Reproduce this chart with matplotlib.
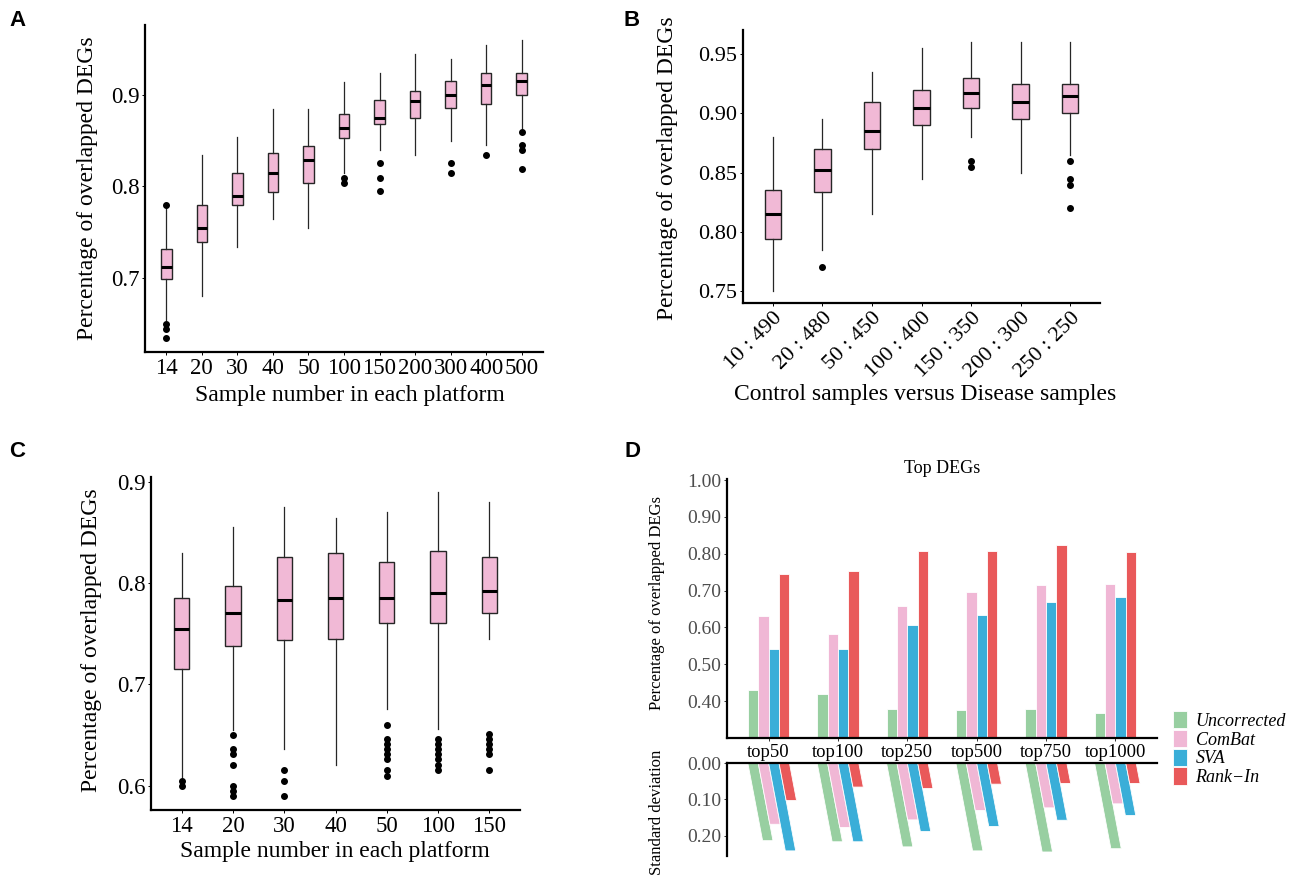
import matplotlib.pyplot as plt
from matplotlib.transforms import Affine2D

plt.rcParams["font.family"] = "Liberation Serif"

W, H = 1290, 877
PINK = "#F1B9D6"

# ---------------- dados: painel A ----------------
a_cats = ["14", "20", "30", "40", "50", "100", "150", "200", "300", "400", "500"]
a_whislo = [0.654, 0.680, 0.734, 0.764, 0.754, 0.814, 0.839, 0.834, 0.849, 0.845, 0.864]
a_q1 = [0.699, 0.739, 0.779, 0.794, 0.804, 0.853, 0.868, 0.874, 0.885, 0.890, 0.900]
a_med = [0.712, 0.754, 0.789, 0.814, 0.829, 0.864, 0.875, 0.893, 0.900, 0.910, 0.915]
a_q3 = [0.731, 0.779, 0.814, 0.836, 0.844, 0.879, 0.894, 0.904, 0.915, 0.924, 0.924]
a_whishi = [0.776, 0.834, 0.854, 0.884, 0.884, 0.914, 0.924, 0.944, 0.939, 0.954, 0.960]
a_fliers = [[0.780, 0.650, 0.644, 0.634], [], [], [], [], [0.809, 0.804],
            [0.825, 0.809, 0.795], [], [0.825, 0.814], [0.834],
            [0.859, 0.845, 0.840, 0.819]]

# ---------------- dados: painel B ----------------
b_cats = ["10 : 490", "20 : 480", "50 : 450", "100 : 400", "150 : 350", "200 : 300", "250 : 250"]
b_whislo = [0.750, 0.785, 0.815, 0.845, 0.880, 0.850, 0.865]
b_q1 = [0.794, 0.834, 0.870, 0.890, 0.905, 0.895, 0.900]
b_med = [0.815, 0.852, 0.885, 0.905, 0.917, 0.910, 0.915]
b_q3 = [0.835, 0.870, 0.910, 0.920, 0.930, 0.925, 0.925]
b_whishi = [0.880, 0.895, 0.935, 0.955, 0.960, 0.960, 0.960]
b_fliers = [[], [0.770], [], [], [0.860, 0.855], [], [0.860, 0.845, 0.840, 0.820]]

# ---------------- dados: painel C ----------------
c_cats = ["14", "20", "30", "40", "50", "100", "150"]
c_whislo = [0.609, 0.655, 0.636, 0.620, 0.676, 0.656, 0.745]
c_q1 = [0.715, 0.738, 0.744, 0.745, 0.761, 0.761, 0.770]
c_med = [0.755, 0.770, 0.783, 0.785, 0.785, 0.790, 0.792]
c_q3 = [0.785, 0.797, 0.826, 0.830, 0.821, 0.832, 0.826]
c_whishi = [0.830, 0.855, 0.875, 0.864, 0.870, 0.890, 0.880]
c_fliers = [[0.605, 0.600],
            [0.650, 0.636, 0.631, 0.620, 0.600, 0.595, 0.590],
            [0.615, 0.605, 0.590],
            [],
            [0.660, 0.646, 0.641, 0.636, 0.631, 0.626, 0.615, 0.610],
            [0.646, 0.641, 0.636, 0.631, 0.626, 0.620, 0.615],
            [0.651, 0.646, 0.641, 0.636, 0.631, 0.615]]

# ---------------- dados: painel D ----------------
d_cats = ["top50", "top100", "top250", "top500", "top750", "top1000"]
d_methods = ["Uncorrected", "ComBat", "SVA", "Rank\u2212In"]
d_colors = ["#98CFA1", "#F0B7D5", "#3AAED8", "#E9595A"]
d_uncorrected = [0.430, 0.420, 0.380, 0.377, 0.380, 0.368]
d_combat = [0.632, 0.581, 0.659, 0.697, 0.714, 0.717]
d_sva = [0.541, 0.541, 0.606, 0.634, 0.670, 0.684]
d_rankin = [0.744, 0.754, 0.808, 0.808, 0.825, 0.805]
sd_uncorrected = [0.213, 0.216, 0.230, 0.241, 0.244, 0.235]
sd_combat = [0.168, 0.177, 0.156, 0.130, 0.123, 0.112]
sd_sva = [0.241, 0.216, 0.188, 0.174, 0.157, 0.144]
sd_rankin = [0.103, 0.066, 0.070, 0.058, 0.056, 0.056]

fig = plt.figure(figsize=(W / 100, H / 100), dpi=100)


def px_axes(l, t, r, b):
    return fig.add_axes([l / W, 1 - b / H, (r - l) / W, (b - t) / H])


def px_text(x, y, s, **kw):
    fig.text(x / W, 1 - y / H, s, **kw)


def estilo(ax):
    for s in ["top", "right"]:
        ax.spines[s].set_visible(False)
    for s in ["left", "bottom"]:
        ax.spines[s].set_linewidth(1.6)
        ax.spines[s].set_color("black")
    ax.tick_params(length=2.5, width=0.7, color="#333333", pad=1.5)


def box_panel(ax, cats, whislo, q1, med, q3, whishi, fliers, width):
    stats = []
    for i in range(len(cats)):
        stats.append(dict(whislo=whislo[i], q1=q1[i], med=med[i], q3=q3[i],
                          whishi=whishi[i], fliers=fliers[i]))
    pos = list(range(1, len(cats) + 1))
    ax.bxp(stats, positions=pos, widths=width, patch_artist=True, showcaps=False,
           boxprops=dict(facecolor=PINK, edgecolor="#262626", linewidth=1.0),
           medianprops=dict(color="black", linewidth=2.2),
           whiskerprops=dict(color="#262626", linewidth=0.9),
           flierprops=dict(marker="o", markerfacecolor="black",
                           markeredgecolor="black", markersize=4))
    ax.set_xticks(pos, cats)
    ax.set_xlim(0.4, len(cats) + 0.6)
    estilo(ax)


# ================================
# A
# ================================
axA = px_axes(145, 25, 543, 352)
box_panel(axA, a_cats, a_whislo, a_q1, a_med, a_q3, a_whishi, a_fliers, 0.3)
axA.set_ylim(0.619, 0.976)
axA.set_yticks([0.7, 0.8, 0.9], ["0.7", "0.8", "0.9"])
axA.tick_params(labelsize=16.5, colors="black")
px_text(88, 188, "Percentage of overlapped DEGs", rotation=90, ha="center", va="center", fontsize=17)
px_text(350, 396, "Sample number in each platform", ha="center", va="center", fontsize=17)

# ================================
# B
# ================================
axB = px_axes(743, 30, 1100, 303)
box_panel(axB, b_cats, b_whislo, b_q1, b_med, b_q3, b_whishi, b_fliers, 0.33)
axB.set_ylim(0.74, 0.9705)
axB.set_yticks([0.75, 0.80, 0.85, 0.90, 0.95], ["0.75", "0.80", "0.85", "0.90", "0.95"])
axB.tick_params(labelsize=16, colors="black")
plt.setp(axB.get_xticklabels(), rotation=45, ha="right", va="top", rotation_mode="anchor")
px_text(668, 168, "Percentage of overlapped DEGs", rotation=90, ha="center", va="center", fontsize=17)
px_text(925, 395, "Control samples versus Disease samples", ha="center", va="center", fontsize=17)

# ================================
# C
# ================================
axC = px_axes(151, 477, 520, 810)
box_panel(axC, c_cats, c_whislo, c_q1, c_med, c_q3, c_whishi, c_fliers, 0.3)
axC.set_ylim(0.576, 0.9046)
axC.set_yticks([0.6, 0.7, 0.8, 0.9], ["0.6", "0.7", "0.8", "0.9"])
axC.tick_params(labelsize=16.5, colors="black")
px_text(92, 640, "Percentage of overlapped DEGs", rotation=90, ha="center", va="center", fontsize=17)
px_text(335, 851, "Sample number in each platform", ha="center", va="center", fontsize=17)

# ================================
# D - barras superiores
# ================================
d_vals = [d_uncorrected, d_combat, d_sva, d_rankin]
d_sds = [sd_uncorrected, sd_combat, sd_sva, sd_rankin]
offsets = [-0.225, -0.075, 0.075, 0.225]
xs = list(range(1, len(d_cats) + 1))

axD = px_axes(727, 479, 1157, 738)
handles = []
for vals, off, cor, nome in zip(d_vals, offsets, d_colors, d_methods):
    h = axD.bar([x + off for x in xs], vals, width=0.15, color=cor,
                edgecolor="white", linewidth=0.6, label=nome)
    handles.append(h)
axD.set_xlim(0.4, 6.6)
axD.set_ylim(0.30, 1.003)
axD.set_yticks([0.4, 0.5, 0.6, 0.7, 0.8, 0.9, 1.0],
               ["0.40", "0.50", "0.60", "0.70", "0.80", "0.90", "1.00"])
axD.set_xticks(xs, d_cats)
estilo(axD)
axD.tick_params(axis="y", labelsize=14, labelcolor="#4D4D4D")
axD.tick_params(axis="x", labelsize=13.5, labelcolor="black")
axD.set_title("Top DEGs", fontsize=13, pad=4)

# ================================
# D - desvio padrão (barras inclinadas)
# ================================
axS = px_axes(727, 763, 1157, 856)
skew = Affine2D.from_values(1, 0, 1.0, 1, 0, 0)
for sds, off, cor in zip(d_sds, offsets, d_colors):
    bars = axS.bar([x + off for x in xs], sds, width=0.15, color=cor,
                   edgecolor="white", linewidth=0.6)
    for p in bars:
        p.set_transform(skew + axS.transData)
        p.set_clip_on(False)
axS.set_xlim(0.4, 6.6)
axS.set_ylim(0.255, 0)
axS.set_yticks([0.0, 0.1, 0.2], ["0.00", "0.10", "0.20"])
axS.set_xticks([])
for s in ["bottom", "right"]:
    axS.spines[s].set_visible(False)
for s in ["left", "top"]:
    axS.spines[s].set_linewidth(1.6)
    axS.spines[s].set_color("black")
axS.tick_params(axis="y", length=2.5, width=0.7, color="#333333", pad=1.5,
                labelsize=14, labelcolor="#4D4D4D")

px_text(657, 603, "Percentage of overlapped DEGs", rotation=90, ha="center", va="center", fontsize=12)
px_text(657, 812, "Standard deviation", rotation=90, ha="center", va="center", fontsize=12)

fig.legend(handles, d_methods, loc="upper left", bbox_to_anchor=(1173 / W, 1 - 711 / H),
           frameon=False, prop=dict(family="Liberation Serif", style="italic", size=13),
           handlelength=0.75, handleheight=1.1, handletextpad=0.5, labelspacing=0.0,
           borderpad=0, borderaxespad=0)

# letras dos painéis
for x, y, s in [(18, 20, "A"), (632, 20, "B"), (17, 452, "C"), (632, 452, "D")]:
    px_text(x, y, s, ha="center", va="center", fontsize=16, fontweight="bold",
            family="Liberation Sans")

fig.savefig("out.png", dpi=100)
